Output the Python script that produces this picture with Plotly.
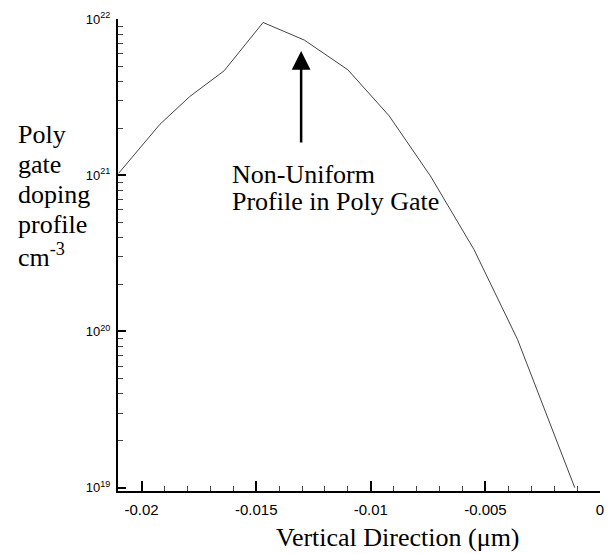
import plotly.graph_objects as go

# ---- data ----
x_um = [-0.0210, -0.0192, -0.0179, -0.0164, -0.0147, -0.0129, -0.0110,
        -0.0092, -0.0074, -0.0055, -0.0036, -0.0011]
doping = [1.03e21, 2.12e21, 3.19e21, 4.66e21, 9.5e21, 7.33e21, 4.73e21,
          2.40e21, 9.9e20, 3.35e20, 8.9e19, 1.0e19]

x_ticks = [-0.02, -0.015, -0.01, -0.005, 0]
x_ticktext = ["-0.02", "-0.015", "-0.01", "-0.005", "0"]
y_ticks = [1e19, 1e20, 1e21, 1e22]
y_ticktext = ["10<sup>19</sup>", "10<sup>20</sup>", "10<sup>21</sup>", "10<sup>22</sup>"]
y_minor = [float(m) * 10.0 ** e for e in (19, 20, 21) for m in range(2, 10)]

ylabel_lines = ["Poly", "gate", "doping", "profile", "cm<sup>-3</sup>"]
note_lines = ["Non-Uniform", "Profile in Poly Gate"]
xlabel = "Vertical Direction (\u03bcm)"

# ---- layout geometry ----
W, H = 611, 554
L, R, T, B = 118, 7, 19, 63
PW, PH = W - L - R, H - T - B


def px(xp):
    return (xp - L) / PW


def py(yp):
    return (H - B - yp) / PH


SERIF = "Liberation Serif, Times New Roman, serif"
NARROW = "Liberation Sans Narrow, Arial Narrow, Liberation Sans, Arial, sans-serif"

fig = go.Figure()
fig.add_trace(go.Scatter(x=x_um, y=doping, mode="lines",
                         line=dict(color="#444444", width=1),
                         showlegend=False, hoverinfo="skip"))

annotations = []
for i, t in enumerate(ylabel_lines):
    annotations.append(dict(text=t, xref="paper", yref="paper",
                            x=px(15), y=py(134 + 30.3 * i),
                            xanchor="left", yanchor="middle", showarrow=False,
                            font=dict(family=SERIF, size=26, color="black")))
for i, t in enumerate(note_lines):
    annotations.append(dict(text=t, xref="paper", yref="paper",
                            x=px(231), y=py(174 + 28 * i),
                            xanchor="left", yanchor="middle", showarrow=False,
                            font=dict(family=SERIF, size=26, color="black")))
annotations.append(dict(text=xlabel, xref="paper", yref="paper",
                        x=px(400.5), y=py(537), xanchor="center", yanchor="middle",
                        showarrow=False,
                        font=dict(family=SERIF, size=26, color="black")))
# arrow
annotations.append(dict(text="", x=-0.01304, y=21.795, xref="x", yref="y",
                        showarrow=True, axref="pixel", ayref="pixel", ax=0, ay=93,
                        arrowhead=2, arrowsize=1.5, arrowwidth=2.5,
                        arrowcolor="black"))

fig.update_layout(
    width=W, height=H,
    margin=dict(l=L, r=R, t=T, b=B),
    paper_bgcolor="white", plot_bgcolor="white",
    annotations=annotations,
    xaxis=dict(range=[-0.02103, 0], tickvals=x_ticks, ticktext=x_ticktext,
               ticks="inside", ticklen=10, tickwidth=2, tickcolor="black",
               showline=True, linewidth=2, linecolor="black", mirror=False,
               showgrid=False, zeroline=False, ticklabelstandoff=4,
               tickfont=dict(family=NARROW, size=15, color="black"),
               minor=dict(dtick=0.001, tick0=0, ticks="inside", ticklen=5,
                          tickwidth=1, tickcolor="#444444", showgrid=False)),
    yaxis=dict(type="log", range=[18.979, 22.0], tickvals=y_ticks,
               ticktext=y_ticktext,
               ticks="inside", ticklen=8, tickwidth=2, tickcolor="black",
               showline=True, linewidth=2, linecolor="black", mirror=False,
               showgrid=False, zeroline=False, ticklabelstandoff=3,
               tickfont=dict(family=NARROW, size=13, color="black"),
               minor=dict(tickvals=y_minor, ticks="inside", ticklen=5,
                          tickwidth=1, tickcolor="#444444", showgrid=False)),
)

fig.write_html("out.html")
